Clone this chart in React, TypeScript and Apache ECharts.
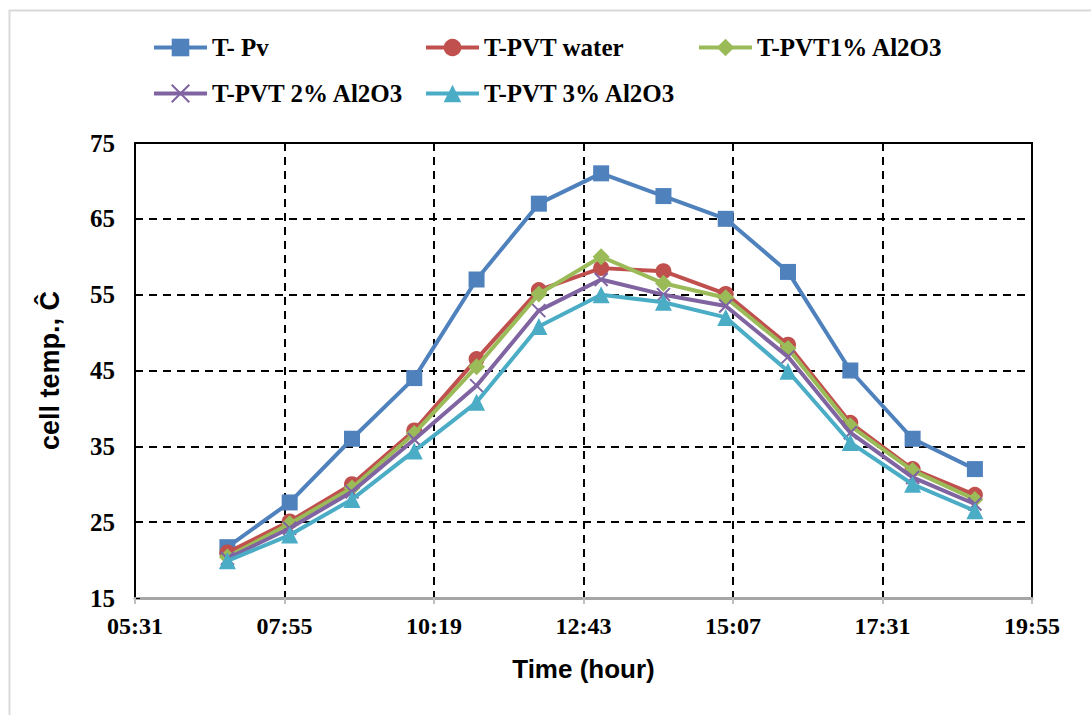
import React, { useEffect, useRef } from "react";
import * as echarts from "echarts";

const times = ["07:00", "08:00", "09:00", "10:00", "11:00", "12:00", "13:00", "14:00", "15:00", "16:00", "17:00", "18:00", "19:00"];
const tPv = [21.7, 27.6, 36, 44, 57, 67, 71, 68, 65, 58, 45, 36, 32];
const tPvtWater = [21, 25.1, 30, 37.1, 46.5, 55.6, 58.5, 58.1, 55.1, 48.4, 38.1, 32, 28.6];
const tPvt1 = [20.4, 24.8, 29.5, 36.7, 45.5, 55.1, 60, 56.5, 54.6, 47.9, 37.7, 31.8, 28];
const tPvt2 = [20.2, 24.2, 29, 35.9, 43, 52.9, 57, 55, 53.5, 46.8, 36.8, 30.9, 27.4];
const tPvt3 = [19.9, 23.3, 28, 34.4, 40.8, 50.8, 55, 54, 52, 44.9, 35.5, 30, 26.5];
const xTickLabels = ["05:31", "07:55", "10:19", "12:43", "15:07", "17:31", "19:55"];
const yTicks = [15, 25, 35, 45, 55, 65, 75];
const seriesNames = ["T- Pv", "T-PVT water", "T-PVT1% Al2O3", "T-PVT 2% Al2O3", "T-PVT 3% Al2O3"];

const toMin = (s: string) => {
  const [h, m] = s.split(":").map(Number);
  return h * 60 + m;
};
const toLabel = (v: number) => {
  const h = Math.floor(v / 60);
  const m = Math.round(v - h * 60);
  return String(h).padStart(2, "0") + ":" + String(m).padStart(2, "0");
};

export default function App() {
  const ref = useRef<HTMLDivElement>(null);
  useEffect(() => {
    if (!ref.current) return;
    const chart = echarts.init(ref.current, undefined, { renderer: "svg" });
    const xMin = toMin(xTickLabels[0]);
    const xMax = toMin(xTickLabels[xTickLabels.length - 1]);
    const xInt = toMin(xTickLabels[1]) - xMin;
    const colors = ["#4F81BD", "#C0504D", "#9BBB59", "#8064A2", "#4BACC6"];
    const values = [tPv, tPvtWater, tPvt1, tPvt2, tPvt3];
    const symbols = ["rect", "circle", "diamond", "path://M0,0L10,10M10,0L0,10", "triangle"];
    const sizes: any[] = [16, 16, [17, 17], 13, 17];
    const serif = "'Liberation Serif', 'Times New Roman', serif";
    const sans = "'Liberation Sans', Arial, sans-serif";
    const legendPos = [
      [152, 35],
      [424, 35],
      [697, 35],
      [152, 81],
      [424, 81],
    ];
    chart.setOption({
      animation: false,
      backgroundColor: "#ffffff",
      graphic: [
        {
          type: "rect",
          shape: { x: 9.5, y: 10.5, width: 1200, height: 800 },
          style: { fill: "none", stroke: "#D9D9D9", lineWidth: 2 },
          silent: true,
          z: -10,
        },
      ],
      legend: seriesNames.map((n, i) => ({
        data: [n],
        left: legendPos[i][0],
        top: legendPos[i][1],
        itemWidth: 53,
        itemHeight: 22,
        itemGap: 5,
        padding: 0,
        lineStyle: { width: 4 },
        textStyle: { fontFamily: serif, fontWeight: "bold", fontSize: 25, color: "#000" },
      })),
      grid: {
        left: 135,
        right: 59,
        top: 143,
        bottom: 117,
        show: true,
        borderColor: "#000",
        borderWidth: 2,
        containLabel: false,
      },
      xAxis: {
        type: "value",
        min: xMin,
        max: xMax,
        interval: xInt,
        name: "Time (hour)",
        nameLocation: "middle",
        nameGap: 58,
        nameTextStyle: { fontFamily: sans, fontWeight: "bold", fontSize: 26, color: "#000" },
        axisLine: { show: true, lineStyle: { color: "#A6A6A6", width: 3 } },
        axisTick: { show: true, length: 6, lineStyle: { color: "#BFBFBF", width: 2 } },
        axisLabel: {
          margin: 16,
          showMinLabel: true,
          showMaxLabel: true,
          fontFamily: serif,
          fontWeight: "bold",
          fontSize: 24,
          color: "#000",
          formatter: (v: number) => toLabel(v),
        },
        splitLine: { show: true, lineStyle: { color: "#000", width: 2, type: [8, 6] } },
      },
      yAxis: {
        type: "value",
        min: yTicks[0],
        max: yTicks[yTicks.length - 1],
        interval: yTicks[1] - yTicks[0],
        name: "cell temp., Ĉ",
        nameLocation: "middle",
        nameGap: 72,
        nameTextStyle: { fontFamily: sans, fontWeight: "bold", fontSize: 27, color: "#000" },
        axisLine: { show: true, lineStyle: { color: "#000", width: 2 } },
        axisTick: { show: true, inside: true, length: 5, lineStyle: { color: "#000", width: 1 } },
        axisLabel: {
          margin: 20,
          showMinLabel: true,
          showMaxLabel: true,
          fontFamily: serif,
          fontWeight: "bold",
          fontSize: 25,
          color: "#000",
        },
        splitLine: { show: true, lineStyle: { color: "#000", width: 2, type: [8, 6] } },
      },
      series: seriesNames.map((n, i) => ({
        name: n,
        type: "line",
        data: times.map((t, j) => [toMin(t), values[i][j]]),
        symbol: symbols[i],
        symbolSize: sizes[i],
        showAllSymbol: true,
        lineStyle: { color: colors[i], width: 4 },
        itemStyle: {
          color: colors[i],
          borderColor: colors[i],
          borderWidth: i === 3 ? 2 : 0,
        },
        emphasis: { disabled: true },
        z: 2 + i,
      })),
    });
    return () => chart.dispose();
  }, []);
  return (
    <div
      ref={ref}
      style={{ position: "fixed", left: 0, top: 0, width: 1091, height: 715, background: "#fff" }}
    />
  );
}
